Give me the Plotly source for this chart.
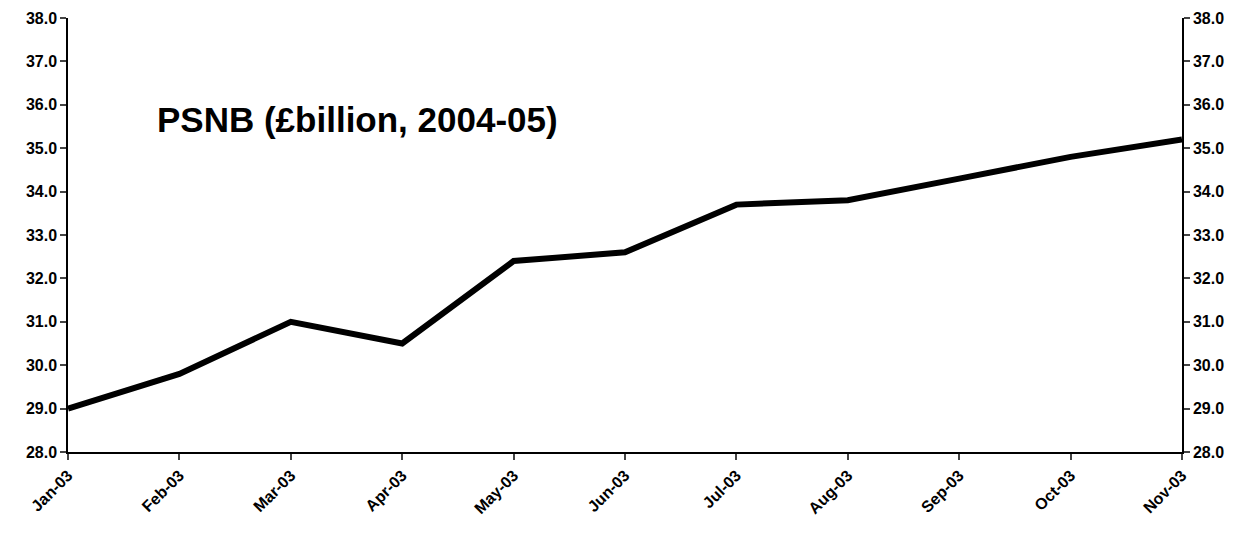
import plotly.graph_objects as go

months = ["Jan-03","Feb-03","Mar-03","Apr-03","May-03","Jun-03","Jul-03","Aug-03","Sep-03","Oct-03","Nov-03"]
psnb = [29.0, 29.8, 31.0, 30.5, 32.4, 32.6, 33.7, 33.8, 34.3, 34.8, 35.2]
yticks = [28 + i for i in range(11)]

fig = go.Figure()
fig.add_trace(go.Scatter(x=list(range(len(months))), y=psnb, mode="lines",
                         line=dict(color="black", width=6), showlegend=False))
fig.add_trace(go.Scatter(x=[0], y=[None], yaxis="y2", showlegend=False, hoverinfo="skip"))

font = dict(family="Liberation Sans, Arial", size=16, color="black")
yax = dict(range=[28, 38], tickvals=yticks, ticktext=[f"<b>{v:.1f}</b>" for v in yticks],
           ticks="outside", ticklen=6, tickwidth=1.5, showgrid=False, zeroline=False,
           showline=True, linecolor="black", linewidth=1.5, tickfont=font, automargin=False)
fig.update_layout(
    width=1252, height=542, plot_bgcolor="white", paper_bgcolor="white",
    margin=dict(l=60, r=78, t=10, b=98),
    xaxis=dict(range=[0, 10], tickvals=list(range(len(months))), ticktext=[f"<b>{m}</b>" for m in months],
               tickangle=-45, ticks="outside", ticklen=6, tickwidth=1.5, showgrid=False,
               zeroline=False, showline=True, linecolor="black", linewidth=1.5, tickfont=font,
               automargin=False),
    yaxis=yax,
    yaxis2=dict(yax, overlaying="y", side="right", anchor="x"),
    annotations=[dict(text="<b>PSNB (£billion, 2004-05)</b>", x=0.078, y=0.765,
                      xref="paper", yref="paper", xanchor="left", yanchor="middle",
                      showarrow=False, font=dict(family="Liberation Sans, Arial", size=35, color="black"))],
)
fig.write_html("out.html")
